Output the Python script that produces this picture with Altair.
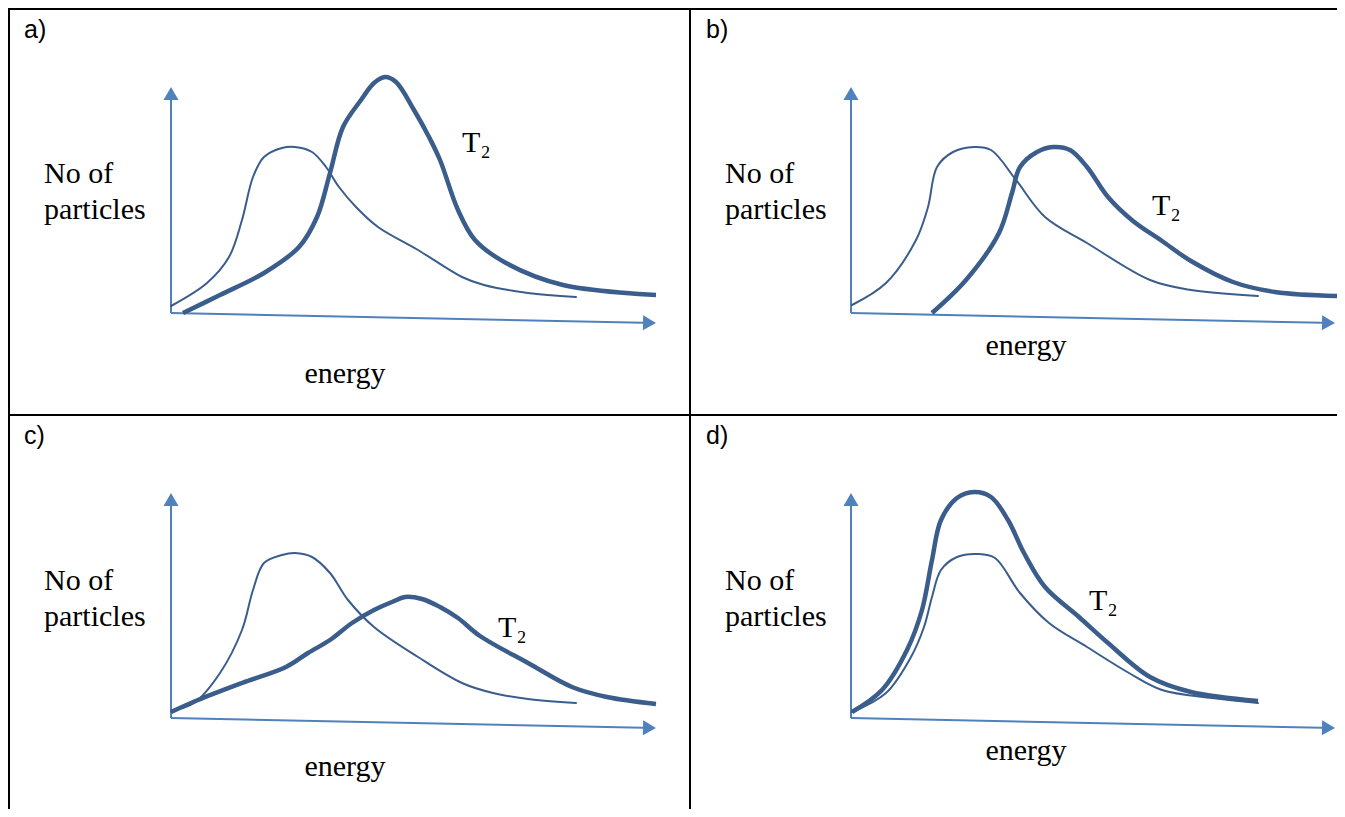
import altair as alt
import pandas as pd

# ---------------- data ----------------
# energy = pixels to the right of the y-axis, number = pixels above the origin
panels = ["a", "b", "c", "d"]
panel_tags = ["a)", "b)", "c)", "d)"]
y_label_lines = ["No of", "particles"]
x_label = "energy"
hot_label = "T\u2082"

a_cold_energy = [0, 36, 58, 71, 82, 93, 111, 124, 141, 155, 168, 185, 207, 247, 291, 313, 357, 405]
a_cold_number = [7, 30, 56, 93, 136, 156, 165, 166, 161, 146, 126, 106, 86, 63, 36, 28, 20, 16]
a_hot_energy = [12, 49, 93, 128, 146, 159, 172, 190, 203, 214, 225, 243, 258, 269, 287, 304, 335, 392, 485]
a_hot_number = [0, 18, 40, 66, 96, 140, 186, 213, 230, 236, 231, 203, 176, 153, 103, 73, 50, 28, 18]

b_cold_energy = [1, 35, 65, 77, 86, 102, 123, 140, 165, 194, 236, 299, 340, 407]
b_cold_number = [8, 30, 73, 106, 146, 161, 166, 163, 133, 96, 70, 33, 23, 17]
b_hot_energy = [81, 115, 148, 161, 169, 186, 202, 219, 236, 257, 282, 311, 340, 382, 424, 486]
b_hot_number = [0, 33, 80, 120, 146, 161, 166, 163, 146, 116, 92, 72, 52, 31, 21, 17]

c_cold_energy = [0, 23, 49, 71, 82, 93, 111, 124, 141, 159, 177, 203, 247, 291, 322, 357, 405]
c_cold_number = [7, 15, 45, 88, 128, 155, 163, 165, 161, 145, 118, 91, 61, 35, 25, 19, 15]
c_hot_energy = [0, 27, 71, 115, 137, 159, 181, 203, 221, 234, 251, 269, 287, 309, 357, 401, 436, 485]
c_hot_number = [6, 18, 35, 51, 65, 78, 95, 108, 116, 121, 119, 111, 100, 82, 55, 31, 21, 14]

d_cold_energy = [1, 35, 60, 73, 81, 90, 106, 127, 144, 169, 198, 236, 278, 311, 361, 407]
d_cold_number = [6, 25, 61, 91, 121, 148, 161, 164, 160, 125, 95, 71, 45, 28, 20, 15]
d_hot_energy = [1, 31, 56, 71, 81, 90, 106, 123, 140, 157, 173, 194, 228, 257, 299, 340, 407]
d_hot_number = [6, 28, 68, 108, 158, 198, 220, 226, 221, 198, 165, 131, 101, 75, 41, 26, 17]

curves = {
    "a": (a_cold_energy, a_cold_number, a_hot_energy, a_hot_number),
    "b": (b_cold_energy, b_cold_number, b_hot_energy, b_hot_number),
    "c": (c_cold_energy, c_cold_number, c_hot_energy, c_hot_number),
    "d": (d_cold_energy, d_cold_number, d_hot_energy, d_hot_number),
}

# ---------------- layout (page pixels) ----------------
W, H = 1329, 801
X0, Y0 = 8, 8
origin = {"a": (171, 313), "b": (851, 313), "c": (171, 718), "d": (851, 718)}
x_tip = {"a": (485, -10), "b": (484, -10), "c": (485, -10), "d": (484, -10)}
y_tip = {"a": 226, "b": 226, "c": 225, "d": 225}
tag_pos = {"a": (24, 38), "b": (706, 38), "c": (24, 444), "d": (706, 444)}
ylab_pos = {"a": (44, 183), "b": (725, 183), "c": (44, 590), "d": (725, 590)}
xlab_pos = {"a": (345, 383), "b": (1026, 355), "c": (345, 776), "d": (1026, 760)}
hot_pos = {"a": (462, 152), "b": (1152, 215), "c": (498, 637), "d": (1089, 610)}
line_gap = 36
ARROW = 15  # arrowhead width
AH = ARROW * 0.866

CURVE = "#3A5D8C"
AXIS = "#4F81BD"

xs = alt.Scale(domain=[X0, X0 + W], nice=False, zero=False)
ys = alt.Scale(domain=[Y0, Y0 + H], nice=False, zero=False, reverse=True)


def X(f="x"):
    return alt.X(f"{f}:Q", scale=xs, axis=None)


def Y(f="y"):
    return alt.Y(f"{f}:Q", scale=ys, axis=None)


# curves
rows = []
for p in panels:
    ox, oy = origin[p]
    ce, cn, he, hn = curves[p]
    for i, (e, n) in enumerate(zip(ce, cn)):
        rows.append(dict(panel=p, series="T1", order=i, x=ox + e, y=oy - n))
    for i, (e, n) in enumerate(zip(he, hn)):
        rows.append(dict(panel=p, series="T2", order=i, x=ox + e, y=oy - n))
cdf = pd.DataFrame(rows)

thin = alt.Chart(cdf).transform_filter(alt.datum.series == "T1").mark_line(
    interpolate="catmull-rom", color=CURVE, strokeWidth=2, strokeCap="round"
).encode(x=X(), y=Y(), detail="panel:N", order="order:Q")

thick = alt.Chart(cdf).transform_filter(alt.datum.series == "T2").mark_line(
    interpolate="catmull-rom", color=CURVE, strokeWidth=4.5, strokeCap="butt"
).encode(x=X(), y=Y(), detail="panel:N", order="order:Q")

# axes
ax_rows, head_rows = [], []
for p in panels:
    ox, oy = origin[p]
    tx, ty = x_tip[p]
    frac = (tx - AH) / tx
    ax_rows.append(dict(x=ox, y=oy, x2=ox, y2=oy - y_tip[p] + AH))
    ax_rows.append(dict(x=ox, y=oy, x2=ox + tx - AH, y2=oy - ty * frac))
    head_rows.append(dict(x=ox, y=oy - y_tip[p] + AH / 2, shape="triangle-up"))
    head_rows.append(dict(x=ox + tx - AH / 2, y=oy - ty * (tx - AH / 2) / tx, shape="triangle-right"))
adf = pd.DataFrame(ax_rows)
hdf = pd.DataFrame(head_rows)

axes = alt.Chart(adf).mark_rule(color=AXIS, strokeWidth=2).encode(
    x=X(), y=Y(), x2="x2:Q", y2="y2:Q"
)
heads_up = alt.Chart(hdf).transform_filter(alt.datum.shape == "triangle-up").mark_point(
    shape="triangle-up", filled=True, size=ARROW * ARROW, color=AXIS, opacity=1
).encode(x=X(), y=Y())
heads_right = alt.Chart(hdf).transform_filter(alt.datum.shape == "triangle-right").mark_point(
    shape="triangle-right", filled=True, size=ARROW * ARROW, color=AXIS, opacity=1, angle=1.2
).encode(x=X(), y=Y())

# borders
bdf = pd.DataFrame([
    dict(x=X0, y=9, x2=X0 + W, y2=9),
    dict(x=X0, y=415, x2=X0 + W, y2=415),
    dict(x=9, y=Y0, x2=9, y2=Y0 + H),
    dict(x=690, y=Y0, x2=690, y2=Y0 + H),
])
borders = alt.Chart(bdf).mark_rule(color="black", strokeWidth=2).encode(
    x=X(), y=Y(), x2="x2:Q", y2="y2:Q"
)

# texts
tags = pd.DataFrame([dict(x=tag_pos[p][0], y=tag_pos[p][1], t=t) for p, t in zip(panels, panel_tags)])
ylabs = pd.DataFrame([
    dict(x=ylab_pos[p][0], y=ylab_pos[p][1] + i * line_gap, t=t)
    for p in panels for i, t in enumerate(y_label_lines)
])
xlabs = pd.DataFrame([dict(x=xlab_pos[p][0], y=xlab_pos[p][1], t=x_label) for p in panels])
hots = pd.DataFrame([dict(x=hot_pos[p][0], y=hot_pos[p][1], t=hot_label) for p in panels])

serif = "Liberation Serif, Times New Roman, serif"
tag_text = alt.Chart(tags).mark_text(
    font="Liberation Sans, Arial, sans-serif", fontSize=25, align="left", baseline="alphabetic", color="black"
).encode(x=X(), y=Y(), text="t:N")
ylab_text = alt.Chart(ylabs).mark_text(
    font=serif, fontSize=30, align="left", baseline="alphabetic", color="black"
).encode(x=X(), y=Y(), text="t:N")
xlab_text = alt.Chart(xlabs).mark_text(
    font=serif, fontSize=30, align="center", baseline="alphabetic", color="black"
).encode(x=X(), y=Y(), text="t:N")
hot_text = alt.Chart(hots).mark_text(
    font=serif, fontSize=30, align="left", baseline="alphabetic", color="black"
).encode(x=X(), y=Y(), text="t:N")

chart = alt.layer(
    borders, axes, heads_up, heads_right, thin, thick, tag_text, ylab_text, xlab_text, hot_text
).properties(
    width=W, height=H, padding=0, autosize=alt.AutoSizeParams(type="none")
).configure_view(stroke=None)

chart.save("out.html", embed_options={"renderer": "svg", "actions": False})
